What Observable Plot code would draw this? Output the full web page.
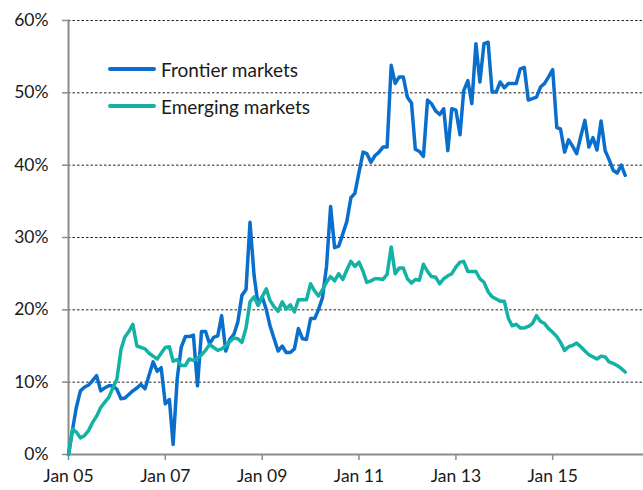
<!DOCTYPE html>
<html>
<head>
<meta charset="utf-8">
<script src="https://cdn.jsdelivr.net/npm/d3@7"></script>
<script src="https://cdn.jsdelivr.net/npm/@observablehq/plot@0.6"></script>
<style>
  html, body { margin: 0; padding: 0; background: #fff; }
  #chart { position: relative; width: 643px; height: 490px; font-family: Lato, "Open Sans", sans-serif; }
  #chart svg { display: block; }
  .legend { position: absolute; left: 108px; top: 56px; color: #1a1a1a; font-size: 19px; }
  .legend .row { display: flex; align-items: center; height: 26px; margin-bottom: 11px; }
  .legend .swatch { width: 48px; height: 4px; border-radius: 2px; margin-right: 5px; }
</style>
</head>
<body>
<div id="chart"></div>
<script>
// Share of each universe, monthly, Jan 2005 – Jul 2016 (percent)
const seriesNames = ["Frontier markets", "Emerging markets"];
const seriesColors = ["#0a6fcc", "#14b2a4"];

const frontier = [
  0.0, 3.5, 6.5, 8.8, 9.3, 9.6, 10.2, 10.9, 8.8, 9.2, 9.5, 9.5,
  9.0, 7.7, 7.8, 8.3, 8.8, 9.2, 9.7, 9.1, 11.0, 12.8, 11.5, 12.0,
  7.0, 7.6, 1.4, 10.5, 14.8, 16.3, 16.3, 16.5, 9.5, 17.0, 17.0, 15.3,
  16.2, 16.4, 19.2, 14.3, 15.9, 16.6, 18.3, 22.0, 22.8, 32.1, 24.7, 20.7,
  21.8, 20.0, 17.8, 16.0, 14.3, 15.0, 14.1, 14.1, 14.6, 17.4, 16.0, 15.9,
  18.8, 18.8, 20.0, 21.7, 26.0, 34.3, 28.6, 28.8, 30.5, 32.2, 35.5, 36.1,
  39.0, 41.8, 41.6, 40.4, 41.3, 41.8, 42.5, 42.5, 53.8, 51.3, 52.2, 52.2,
  49.4, 48.6, 42.2, 41.9, 41.2, 49.0, 48.5, 47.5, 47.0, 47.8, 42.0, 47.8,
  47.6, 44.2, 50.3, 51.7, 48.5, 56.8, 51.5, 56.8, 57.0, 50.1, 50.1, 51.5,
  50.7, 51.3, 51.3, 51.3, 53.3, 53.5, 49.0, 49.2, 49.4, 50.8, 51.3, 52.2,
  53.2, 45.2, 45.0, 41.8, 43.5, 42.6, 41.6, 44.0, 46.2, 42.5, 43.8, 42.1,
  46.1, 42.0, 40.8, 39.3, 38.9, 40.0, 38.6
];

const emerging = [
  0.0, 3.5, 3.1, 2.3, 2.6, 3.3, 4.4, 5.3, 6.5, 7.2, 7.9, 9.2,
  10.4, 14.5, 16.2, 17.0, 18.0, 15.0, 14.8, 14.6, 14.0, 13.6, 13.2, 14.0,
  14.8, 14.9, 12.9, 13.1, 12.3, 12.3, 13.2, 13.0, 13.3, 13.8, 14.4, 15.2,
  14.8, 14.4, 14.6, 15.0, 15.6, 16.1, 16.0, 15.5, 17.5, 21.1, 21.8, 20.6,
  21.8, 22.9, 21.3, 20.4, 19.8, 21.1, 20.1, 20.7, 19.7, 21.4, 21.4, 21.4,
  23.6, 22.6, 21.9, 22.8, 23.8, 24.6, 24.0, 25.0, 24.2, 25.5, 26.7, 26.0,
  26.6, 25.3, 23.8, 24.0, 24.3, 24.3, 24.2, 24.9, 28.7, 25.0, 25.8, 25.8,
  24.3, 23.7, 24.2, 24.1, 26.3, 25.3, 24.6, 24.5, 23.6, 24.3, 24.7, 25.0,
  25.9, 26.6, 26.7, 25.3, 25.3, 25.3, 24.3, 23.8, 22.5, 21.8, 21.5, 21.2,
  21.2, 18.8, 17.8, 18.0, 17.5, 17.5, 17.7, 18.1, 19.2, 18.4, 18.1, 17.4,
  16.9, 16.3, 15.5, 14.4, 14.9, 15.1, 15.4, 14.9, 14.3, 13.8, 13.5, 13.2,
  13.6, 13.5, 12.8, 12.6, 12.3, 11.9, 11.4
];

const yTicks = [0, 10, 20, 30, 40, 50, 60];
const xTickLabels = ["Jan 05", "Jan 07", "Jan 09", "Jan 11", "Jan 13", "Jan 15"];

// Monthly dates for the series, and the tick dates that carry the labels above
const months = d3.utcMonth.range(new Date(Date.UTC(2005, 0, 1)), new Date(Date.UTC(2016, 7, 1)));
const xTicks = xTickLabels.map((_, i) => new Date(Date.UTC(2005 + 2 * i, 0, 1)));

const rows = [];
[frontier, emerging].forEach((vals, s) => {
  vals.forEach((v, i) => rows.push({date: months[i], value: v, series: seriesNames[s]}));
});

const axisGray = "#8c8c8c";

const chart = Plot.plot({
  width: 643,
  height: 490,
  marginLeft: 68,
  marginRight: 0,
  marginTop: 20,
  marginBottom: 36,
  style: {fontFamily: "Lato, 'Open Sans', sans-serif", fontSize: "17.5px", color: "#1a1a1a", background: "#fff"},
  x: {type: "utc", domain: [new Date(Date.UTC(2005, 0, 1)), new Date(Date.UTC(2016, 10, 16))]},
  y: {domain: [0, 60]},
  color: {domain: seriesNames, range: seriesColors},
  marks: [
    Plot.gridY(yTicks.filter(d => d > 0), {stroke: "#222", strokeOpacity: 1, strokeWidth: 1, strokeDasharray: "2.5,2"}),
    Plot.axisY(yTicks, {
      tickFormat: d => d + "%", tickSize: 6, tickPadding: 14, stroke: axisGray, strokeWidth: 1.5,
      fill: "#1a1a1a", fontSize: 17.5, label: null
    }),
    Plot.axisX(xTicks, {
      tickFormat: (d, i) => xTickLabels[i], tickSize: 6, tickPadding: 9, stroke: axisGray, strokeWidth: 1.5,
      fill: "#1a1a1a", fontSize: 17.5, label: null
    }),
    Plot.frame({anchor: "left", stroke: axisGray, strokeWidth: 2}),
    Plot.ruleY([0], {stroke: axisGray, strokeWidth: 2}),
    Plot.line(rows, {
      x: "date", y: "value", z: "series", stroke: "series",
      strokeWidth: 3.5, strokeLinejoin: "round", strokeLinecap: "round"
    })
  ]
});

const root = document.getElementById("chart");
root.appendChild(chart);

// Legend drawn over the upper-left of the plot area
const legend = document.createElement("div");
legend.className = "legend";
seriesNames.forEach((name, i) => {
  const row = document.createElement("div");
  row.className = "row";
  const sw = document.createElement("span");
  sw.className = "swatch";
  sw.style.background = seriesColors[i];
  const label = document.createElement("span");
  label.textContent = name;
  row.appendChild(sw);
  row.appendChild(label);
  legend.appendChild(row);
});
root.appendChild(legend);
</script>
</body>
</html>
